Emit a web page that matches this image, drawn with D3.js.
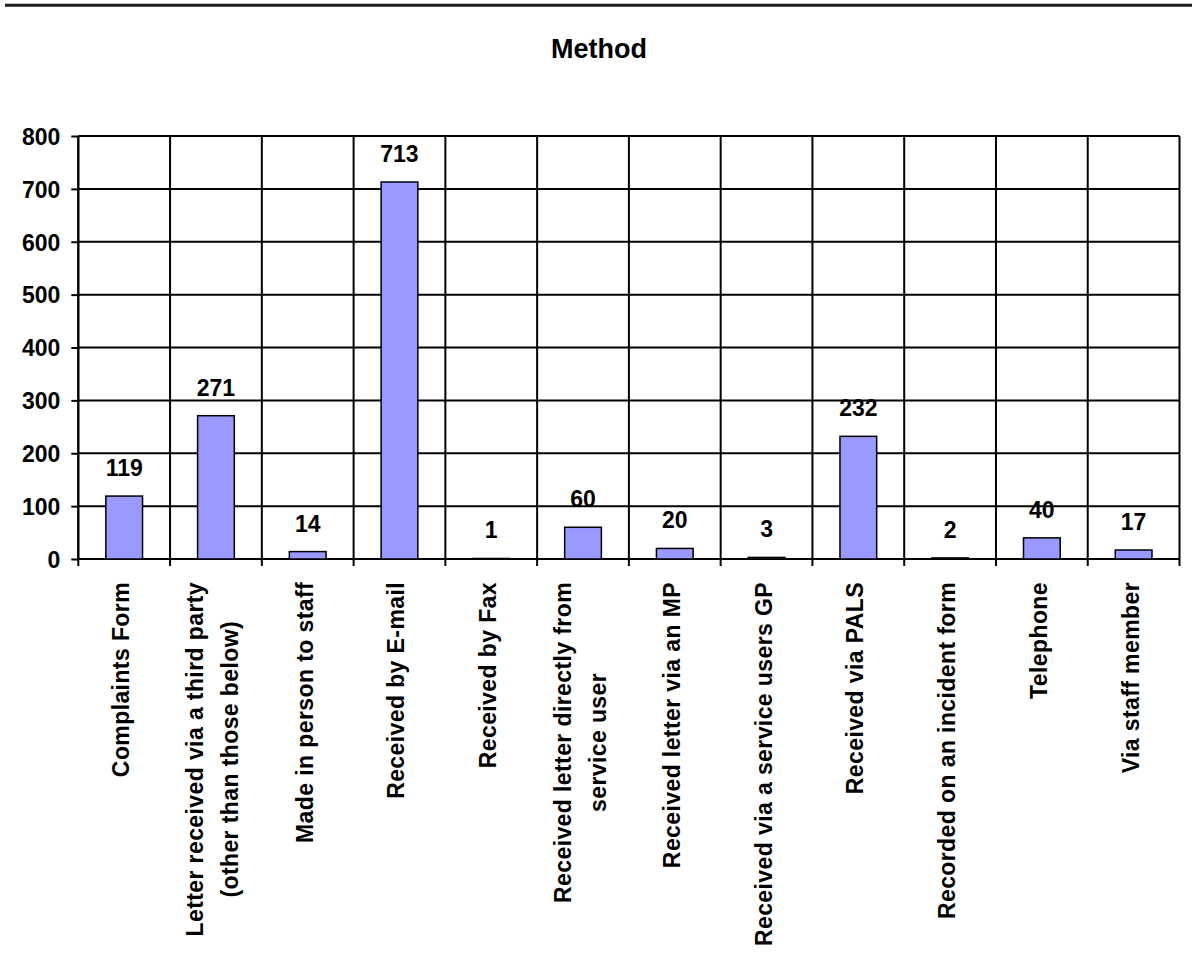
<!DOCTYPE html>
<html>
<head>
<meta charset="utf-8">
<script src="https://cdn.jsdelivr.net/npm/d3@7"></script>
<style>
  html, body { margin: 0; padding: 0; background: #fff; }
  svg { display: block; }
  text { font-family: "Liberation Sans", Arial, sans-serif; font-weight: bold; fill: #000; }
</style>
</head>
<body>
<script>
// Complaint counts by method of receipt
const title = "Method";
const categories = [
  "Complaints Form",
  "Letter received via a third party\n(other than those below)",
  "Made in person to staff",
  "Received by E-mail",
  "Received by Fax",
  "Received letter directly from\nservice user",
  "Received letter via an MP",
  "Received via a service users GP",
  "Received via PALS",
  "Recorded on an incident form",
  "Telephone",
  "Via staff member"
];
const values = [119, 271, 14, 713, 1, 60, 20, 3, 232, 2, 40, 17];
const yTicks = [0, 100, 200, 300, 400, 500, 600, 700, 800];

const W = 1192, H = 971;
const plot = { left: 78.3, right: 1179.5, top: 136, bottom: 559 };
const fontSize = "23px";

const svg = d3.select("body").append("svg")
  .attr("width", W).attr("height", H);

// rule across the top of the page
svg.append("line")
  .attr("x1", 5).attr("x2", W).attr("y1", 5.3).attr("y2", 5.3)
  .attr("stroke", "#1a1a1a").attr("stroke-width", 3);

svg.append("text")
  .attr("x", 599).attr("y", 58.3)
  .attr("text-anchor", "middle")
  .style("font-size", "27px")
  .text(title);

const x = d3.scaleBand()
  .domain(d3.range(categories.length))
  .range([plot.left, plot.right])
  .padding(0);

const y = d3.scaleLinear()
  .domain([0, 800])
  .range([plot.bottom, plot.top]);

// horizontal gridlines
svg.append("g")
  .selectAll("line")
  .data(yTicks)
  .join("line")
  .attr("x1", plot.left).attr("x2", plot.right)
  .attr("y1", d => y(d)).attr("y2", d => y(d))
  .attr("stroke", "#000").attr("stroke-width", 2);

// vertical gridlines at category boundaries, with tick stubs below the axis
const boundaries = d3.range(categories.length + 1).map(i =>
  i < categories.length ? x(i) : x(categories.length - 1) + x.bandwidth());

svg.append("g")
  .selectAll("line")
  .data(boundaries)
  .join("line")
  .attr("x1", d => d).attr("x2", d => d)
  .attr("y1", plot.top).attr("y2", plot.bottom + 7)
  .attr("stroke", "#000").attr("stroke-width", 2);

// value axis
const yAxis = d3.axisLeft(y)
  .tickValues(yTicks)
  .tickSize(7)
  .tickPadding(11)
  .tickFormat(d3.format("d"));

const yg = svg.append("g")
  .attr("transform", `translate(${plot.left},0)`)
  .call(yAxis);
yg.select(".domain").attr("stroke", "#000").attr("stroke-width", 2)
  .attr("d", `M0,${plot.top}V${plot.bottom}`);
yg.selectAll(".tick line").attr("stroke", "#000").attr("stroke-width", 2);
yg.selectAll(".tick text")
  .style("font-size", fontSize)
  .style("font-family", "'Liberation Sans', Arial, sans-serif")
  .style("font-weight", "bold")
  .attr("dy", "0.36em");

// bars
const barW = x.bandwidth() * 0.4;
svg.append("g")
  .selectAll("rect")
  .data(values)
  .join("rect")
  .attr("x", (d, i) => x(i) + (x.bandwidth() - barW) / 2)
  .attr("y", d => y(d))
  .attr("width", barW)
  .attr("height", d => y(0) - y(d))
  .attr("fill", "#9999FF")
  .attr("stroke", "#000")
  .attr("stroke-width", 1.5);

// value labels above the bars
svg.append("g")
  .selectAll("text")
  .data(values)
  .join("text")
  .attr("x", (d, i) => x(i) + x.bandwidth() / 2)
  .attr("y", d => y(d) - 20)
  .attr("text-anchor", "middle")
  .style("font-size", fontSize)
  .text(d => d);

// rotated category labels, lines centred on each other, top-aligned under the axis
const labelTop = 582;
const lineGap = 35;
const catG = svg.append("g");
categories.forEach((label, i) => {
  const lines = label.split("\n");
  const cx = x(i) + x.bandwidth() / 2;
  const g = catG.append("g");
  const texts = lines.map(l => g.append("text")
    .style("font-size", fontSize)
    .style("letter-spacing", "0.4px")
    .attr("text-anchor", "middle")
    .text(l));
  const maxLen = d3.max(texts, t => t.node().getComputedTextLength());
  const cy = labelTop + maxLen / 2;
  texts.forEach((t, k) => {
    const off = (k - (lines.length - 1) / 2) * lineGap + 5;
    t.attr("transform", `translate(${cx + off},${cy}) rotate(-90)`);
  });
});
</script>
</body>
</html>
